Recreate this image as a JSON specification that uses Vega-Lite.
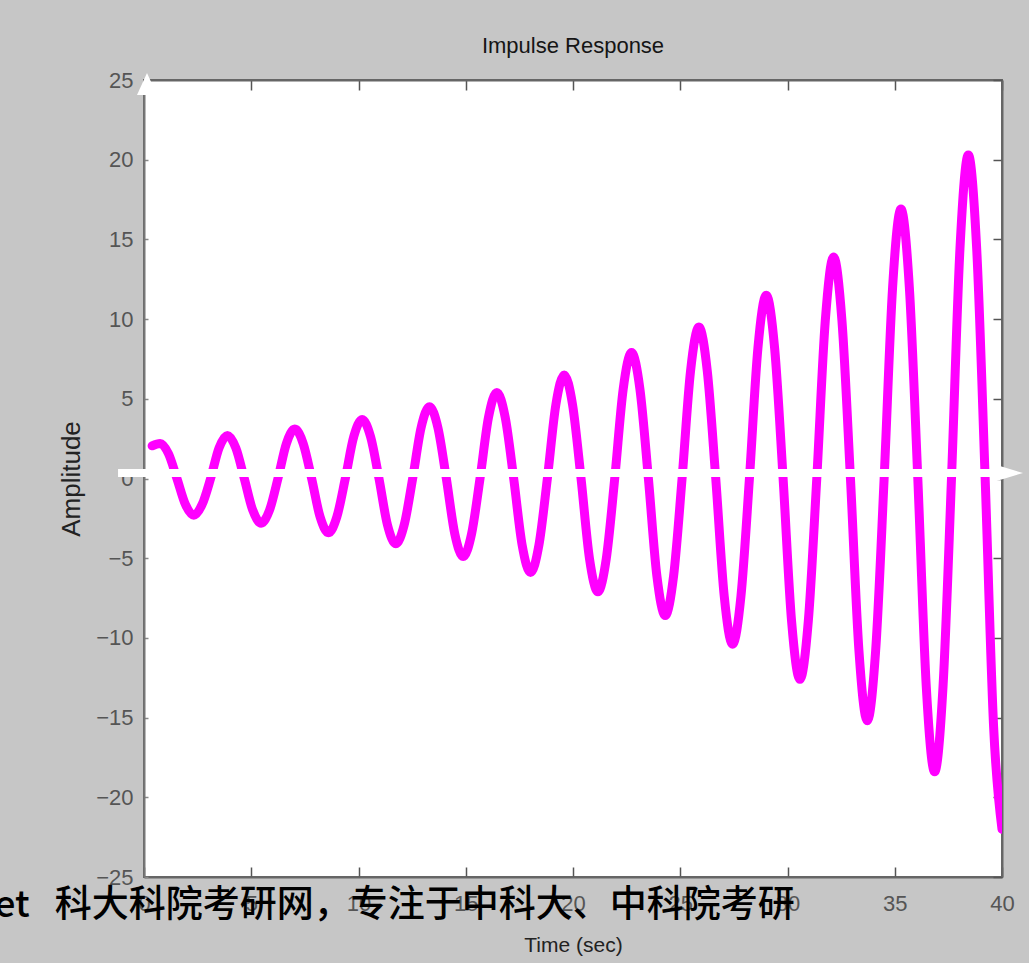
{
  "$schema": "https://vega.github.io/schema/vega-lite/v6.json",
  "autosize": "none",
  "width": 858,
  "height": 797,
  "padding": {"left": 144, "top": 80, "right": 27, "bottom": 86},
  "background": "#c6c6c6",
  "config": {
    "view": {"fill": "white", "stroke": "#666666", "strokeWidth": 2},
    "axis": {"zindex": 1}
  },
  "title": {
    "text": "Impulse Response",
    "anchor": "middle",
    "font": "Liberation Sans",
    "fontSize": 22,
    "fontWeight": "normal",
    "color": "#151515",
    "offset": 11
  },
  "layer": [
    {
      "data": {
        "values": [
          {"t": 0.38, "amp": 2.05},
          {"t": 0.75, "amp": 2.2},
          {"t": 1.14, "amp": 1.56},
          {"t": 1.535, "amp": 0},
          {"t": 1.93, "amp": -1.63},
          {"t": 2.32, "amp": -2.3},
          {"t": 2.71, "amp": -1.63},
          {"t": 3.105, "amp": 0},
          {"t": 3.5, "amp": 1.92},
          {"t": 3.89, "amp": 2.7},
          {"t": 4.28, "amp": 1.92},
          {"t": 4.675, "amp": 0},
          {"t": 5.07, "amp": -1.99},
          {"t": 5.46, "amp": -2.8},
          {"t": 5.85, "amp": -1.99},
          {"t": 6.245, "amp": 0},
          {"t": 6.64, "amp": 2.2},
          {"t": 7.03, "amp": 3.1},
          {"t": 7.42, "amp": 2.2},
          {"t": 7.815, "amp": 0},
          {"t": 8.21, "amp": -2.41},
          {"t": 8.6, "amp": -3.4},
          {"t": 8.99, "amp": -2.41},
          {"t": 9.385, "amp": 0},
          {"t": 9.78, "amp": 2.63},
          {"t": 10.17, "amp": 3.7},
          {"t": 10.56, "amp": 2.63},
          {"t": 10.955, "amp": 0},
          {"t": 11.35, "amp": -2.91},
          {"t": 11.74, "amp": -4.1},
          {"t": 12.13, "amp": -2.91},
          {"t": 12.525, "amp": 0},
          {"t": 12.92, "amp": 3.2},
          {"t": 13.31, "amp": 4.5},
          {"t": 13.7, "amp": 3.2},
          {"t": 14.095, "amp": 0},
          {"t": 14.49, "amp": -3.48},
          {"t": 14.88, "amp": -4.9},
          {"t": 15.27, "amp": -3.48},
          {"t": 15.665, "amp": 0},
          {"t": 16.06, "amp": 3.83},
          {"t": 16.45, "amp": 5.4},
          {"t": 16.84, "amp": 3.83},
          {"t": 17.235, "amp": 0},
          {"t": 17.63, "amp": -4.19},
          {"t": 18.02, "amp": -5.9},
          {"t": 18.41, "amp": -4.19},
          {"t": 18.805, "amp": 0},
          {"t": 19.2, "amp": 4.62},
          {"t": 19.59, "amp": 6.5},
          {"t": 19.98, "amp": 4.62},
          {"t": 20.375, "amp": 0},
          {"t": 20.77, "amp": -5.04},
          {"t": 21.16, "amp": -7.1},
          {"t": 21.55, "amp": -5.04},
          {"t": 21.945, "amp": 0},
          {"t": 22.34, "amp": 5.61},
          {"t": 22.73, "amp": 7.9},
          {"t": 23.12, "amp": 5.61},
          {"t": 23.515, "amp": 0},
          {"t": 23.91, "amp": -6.11},
          {"t": 24.3, "amp": -8.6},
          {"t": 24.69, "amp": -6.11},
          {"t": 25.085, "amp": 0},
          {"t": 25.48, "amp": 6.75},
          {"t": 25.87, "amp": 9.5},
          {"t": 26.26, "amp": 6.75},
          {"t": 26.655, "amp": 0},
          {"t": 27.05, "amp": -7.38},
          {"t": 27.44, "amp": -10.4},
          {"t": 27.83, "amp": -7.38},
          {"t": 28.225, "amp": 0},
          {"t": 28.62, "amp": 8.17},
          {"t": 29.01, "amp": 11.5},
          {"t": 29.4, "amp": 8.17},
          {"t": 29.795, "amp": 0},
          {"t": 30.19, "amp": -8.95},
          {"t": 30.58, "amp": -12.6},
          {"t": 30.97, "amp": -8.95},
          {"t": 31.365, "amp": 0},
          {"t": 31.76, "amp": 9.87},
          {"t": 32.15, "amp": 13.9},
          {"t": 32.54, "amp": 9.87},
          {"t": 32.935, "amp": 0},
          {"t": 33.33, "amp": -10.79},
          {"t": 33.72, "amp": -15.2},
          {"t": 34.11, "amp": -10.79},
          {"t": 34.505, "amp": 0},
          {"t": 34.9, "amp": 12.0},
          {"t": 35.29, "amp": 16.9},
          {"t": 35.68, "amp": 12.0},
          {"t": 36.075, "amp": 0},
          {"t": 36.47, "amp": -13.06},
          {"t": 36.86, "amp": -18.4},
          {"t": 37.25, "amp": -13.06},
          {"t": 37.645, "amp": 0},
          {"t": 38.04, "amp": 14.41},
          {"t": 38.43, "amp": 20.3},
          {"t": 38.82, "amp": 14.41},
          {"t": 39.215, "amp": 0},
          {"t": 39.61, "amp": -15.6},
          {"t": 40.0, "amp": -22.0}
        ]
      },
      "mark": {"type": "line", "color": "#ff00ff", "strokeWidth": 9, "interpolate": "monotone", "clip": true, "strokeCap": "round", "strokeJoin": "round"},
      "encoding": {
        "x": {
          "field": "t", "type": "quantitative",
          "scale": {"domain": [0, 40], "nice": false, "zero": false},
          "axis": {
            "orient": "bottom", "values": [0, 5, 10, 15, 20, 25, 30, 35, 40],
            "title": "Time (sec)", "grid": false,
            "domainColor": "#666666", "domainWidth": 2,
            "tickColor": "#555555", "tickWidth": 1.5, "tickSize": -10,
            "labelFont": "Liberation Sans", "labelFontSize": 22, "labelColor": "#555555",
            "labelPadding": 26, "labelFlush": false,
            "titleFont": "Liberation Sans", "titleFontSize": 21, "titleFontWeight": "normal", "titleColor": "#222222",
            "titlePadding": 20
          }
        },
        "y": {
          "field": "amp", "type": "quantitative",
          "scale": {"domain": [-25, 25], "nice": false, "zero": false},
          "axis": {
            "orient": "left", "values": [-25, -20, -15, -10, -5, 0, 5, 10, 15, 20, 25],
            "title": "Amplitude", "grid": false,
            "domainColor": "#777777", "domainWidth": 2,
            "tickColor": "#888888", "tickWidth": 1.5, "tickSize": -4,
            "labelFont": "Liberation Sans", "labelFontSize": 22, "labelColor": "#555555",
            "labelPadding": 15, "labelFlush": false,
            "titleFont": "Liberation Sans", "titleFontSize": 26, "titleFontWeight": "normal", "titleColor": "#222222",
            "titlePadding": 11
          }
        }
      }
    },
    {
      "data": {"values": [{}]},
      "mark": {"type": "rule", "color": "white", "strokeWidth": 8},
      "encoding": {
        "x": {
          "datum": -1.21, "type": "quantitative",
          "axis": {
            "orient": "top", "values": [0, 5, 10, 15, 20, 25, 30, 35, 40],
            "title": null, "labels": false, "grid": false,
            "domainColor": "#666666", "domainWidth": 2,
            "tickColor": "#555555", "tickWidth": 1.5, "tickSize": -10
          }
        },
        "x2": {"datum": 39.6},
        "y": {
          "datum": 0.345, "type": "quantitative",
          "axis": {
            "orient": "right", "values": [-25, -20, -15, -10, -5, 0, 5, 10, 15, 20, 25],
            "title": null, "labels": false, "grid": false,
            "domainColor": "#666666", "domainWidth": 2,
            "tickColor": "#555555", "tickWidth": 1.5, "tickSize": -9
          }
        }
      }
    },
    {
      "data": {"values": [{}]},
      "mark": {"type": "point", "shape": "M -1 -0.606 L 1 0 L -1 0.606 Z", "size": 1089, "filled": true, "color": "white", "opacity": 1},
      "encoding": {
        "x": {"datum": 40.21, "type": "quantitative", "axis": null},
        "y": {"datum": 0.345, "type": "quantitative", "axis": null}
      }
    },
    {
      "data": {"values": [{}]},
      "mark": {"type": "point", "shape": "M 0 -1 L 0.91 1 L -0.91 1 Z", "size": 484, "filled": true, "color": "white", "opacity": 1},
      "encoding": {
        "x": {"datum": 0.14, "type": "quantitative", "axis": null},
        "y": {"datum": 24.75, "type": "quantitative", "axis": null}
      }
    },
    {
      "data": {"values": [{}]},
      "mark": {"type": "text", "text": "et\u00a0\u00a0\u00a0科大科院考研网，专注于中科大、中科院考研", "font": "Noto Sans CJK SC", "fontSize": 37, "fontWeight": 500, "color": "black", "align": "left", "baseline": "middle"},
      "encoding": {
        "x": {"datum": -6.97, "type": "quantitative", "axis": null},
        "y": {"datum": -26.82, "type": "quantitative", "axis": null}
      }
    }
  ],
  "resolve": {"axis": {"x": "independent", "y": "independent"}}
}
